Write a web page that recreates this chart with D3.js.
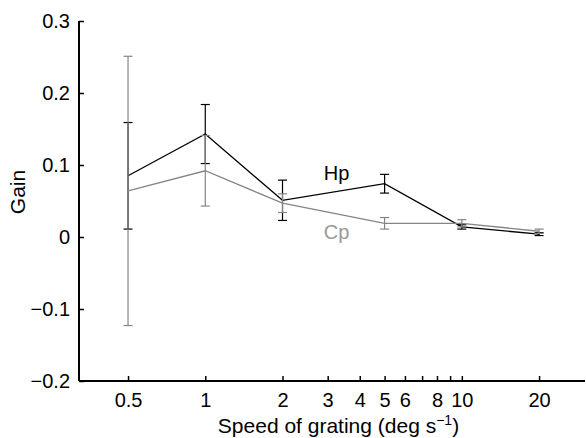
<!DOCTYPE html>
<html>
<head>
<meta charset="utf-8">
<script src="https://cdn.jsdelivr.net/npm/d3@7"></script>
<style>
  body { margin: 0; background: #fff; }
  svg { display: block; font-family: Arial, "Liberation Sans", sans-serif; }
</style>
</head>
<body>
<div id="chart"></div>
<script>
// speeds (deg/s) and gains
const speeds = [0.5, 1, 2, 5, 10, 20];
const hpGain = [0.085, 0.143, 0.051, 0.074, 0.014, 0.004];
const hpErr = [0.074, 0.041, 0.028, 0.013, 0.003, 0.002];
const cpGain = [0.064, 0.092, 0.047, 0.019, 0.019, 0.008];
const cpErr = [0.187, 0.049, 0.013, 0.008, 0.005, 0.003];

const xTicks = [0.5, 1, 2, 3, 4, 5, 6, 7, 8, 9, 10, 20];
const xLabels = [0.5, 1, 2, 3, 4, 5, 6, 8, 10, 20];
const yTicks = [-0.2, -0.1, 0, 0.1, 0.2, 0.3];

const width = 586;
const height = 438;
const margin = { top: 21, right: 1, bottom: 57, left: 79 };
const innerWidth = width - margin.left - margin.right;
const innerHeight = height - margin.top - margin.bottom;

const svg = d3.select("#chart")
  .append("svg")
  .attr("width", width)
  .attr("height", height);

const g = svg.append("g")
  .attr("transform", `translate(${margin.left},${margin.top})`);

const xScale = d3.scaleLog([0.322, 30.2], [0, innerWidth]);
const yScale = d3.scaleLinear([-0.2, 0.3], [innerHeight, 0]);

const fmtY = d => d === 0 ? "0" : d3.format(".1f")(d).replace("-", "\u2212");

// x axis, ticks pointing inward
const xAxisGroup = g.append("g")
  .attr("transform", `translate(0,${innerHeight})`)
  .call(d3.axisBottom(xScale)
    .tickValues(xTicks)
    .tickSize(-5)
    .tickPadding(12)
    .tickFormat(d => xLabels.includes(d) ? String(d) : ""));

// y axis, ticks pointing inward
const yAxisGroup = g.append("g")
  .call(d3.axisLeft(yScale)
    .tickValues(yTicks)
    .tickSize(-5)
    .tickPadding(9)
    .tickFormat(fmtY));

[xAxisGroup, yAxisGroup].forEach(ax => {
  ax.select(".domain").attr("stroke", "#000").attr("stroke-width", 2);
  ax.selectAll(".tick line").attr("stroke", "#000").attr("stroke-width", 1.5);
  ax.selectAll(".tick text")
    .attr("fill", "#000")
    .style("font-size", "20px")
    .style("font-family", "Arial, 'Liberation Sans', sans-serif");
});
xAxisGroup.select(".domain").attr("d", `M0,0H${innerWidth}`);
yAxisGroup.select(".domain").attr("d", `M0,${innerHeight}V0`);

const series = [
  { name: "Hp", gain: hpGain, err: hpErr, color: "#000", label: "#000", lx: 3.25, ly: 0.079 },
  { name: "Cp", gain: cpGain, err: cpErr, color: "#858585", label: "#999", lx: 3.25, ly: -0.003 },
];

const capW = 4.5;
const line = d3.line()
  .x(d => xScale(d.x))
  .y(d => yScale(d.y));

series.forEach(s => {
  const pts = speeds.map((x, i) => ({ x, y: s.gain[i], e: s.err[i] }));
  const sg = g.append("g");

  sg.append("path")
    .datum(pts)
    .attr("fill", "none")
    .attr("stroke", s.color)
    .attr("stroke-width", 1.3)
    .attr("d", line);

  const bars = sg.selectAll(".err")
    .data(pts)
    .join("g")
    .attr("stroke", s.color)
    .attr("stroke-width", 1.2);
  bars.append("line")
    .attr("x1", d => xScale(d.x)).attr("x2", d => xScale(d.x))
    .attr("y1", d => yScale(d.y - d.e)).attr("y2", d => yScale(d.y + d.e));
  bars.append("line")
    .attr("x1", d => xScale(d.x) - capW).attr("x2", d => xScale(d.x) + capW)
    .attr("y1", d => yScale(d.y + d.e)).attr("y2", d => yScale(d.y + d.e));
  bars.append("line")
    .attr("x1", d => xScale(d.x) - capW).attr("x2", d => xScale(d.x) + capW)
    .attr("y1", d => yScale(d.y - d.e)).attr("y2", d => yScale(d.y - d.e));

  g.append("text")
    .attr("x", xScale(s.lx))
    .attr("y", yScale(s.ly))
    .attr("text-anchor", "middle")
    .attr("fill", s.label)
    .style("font-size", "20px")
    .text(s.name);
});

// axis titles
g.append("text")
  .attr("x", (215 + 462) / 2 - margin.left)
  .attr("y", innerHeight + 52)
  .attr("text-anchor", "middle")
  .style("font-size", "21px")
  .html("Speed of grating (deg s<tspan dy='-8' font-size='14'>\u22121</tspan><tspan dy='8'>)</tspan>");

g.append("text")
  .attr("transform", `translate(${25 - margin.left},${192 - margin.top}) rotate(-90)`)
  .attr("text-anchor", "middle")
  .style("font-size", "21px")
  .text("Gain");
</script>
</body>
</html>
